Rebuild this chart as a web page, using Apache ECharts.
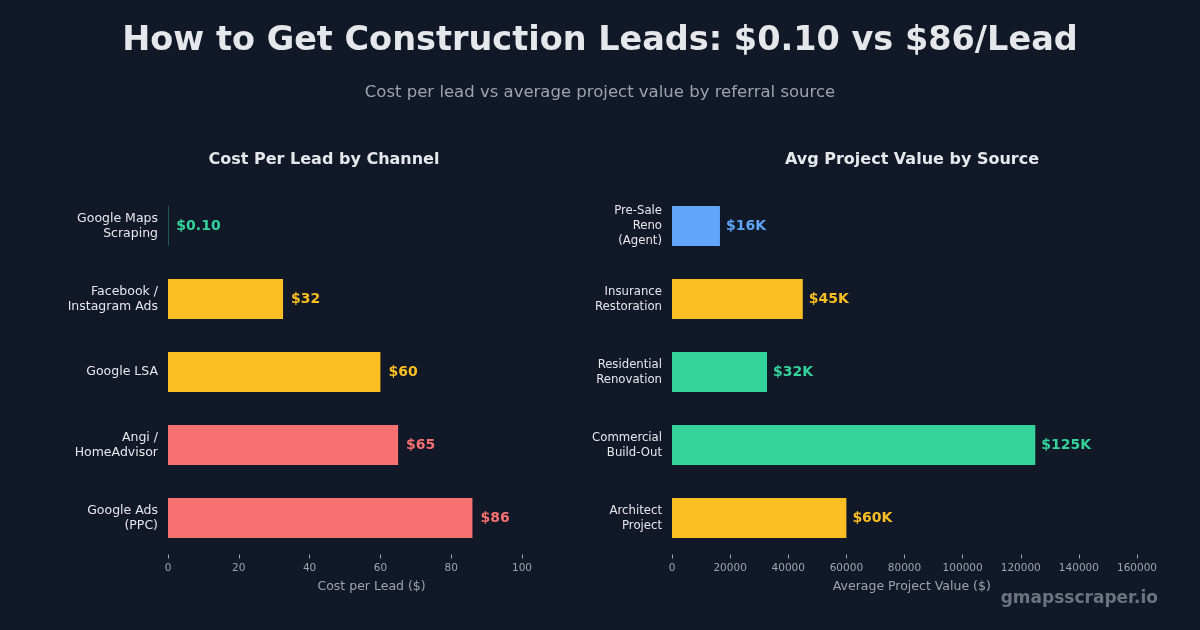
<!DOCTYPE html>
<html><head><meta charset="utf-8">
<script src="https://cdn.jsdelivr.net/npm/echarts@6/dist/echarts.min.js"></script>
<style>html,body{margin:0;padding:0;background:#111827;}#c{width:1200px;height:630px;}</style>
</head><body><div id="c"></div>
<script>
const channels = ["Google Maps\nScraping", "Facebook /\nInstagram Ads", "Google LSA", "Angi /\nHomeAdvisor", "Google Ads\n(PPC)"];
const costPerLead = [0.10, 32.5, 60, 65, 86];
const costLabels = ["$0.10", "$32", "$60", "$65", "$86"];
const costColors = ["#34d399", "#fbbf24", "#fbbf24", "#f87171", "#f87171"];

const sources = ["Pre-Sale\nReno\n(Agent)", "Insurance\nRestoration", "Residential\nRenovation", "Commercial\nBuild-Out", "Architect\nProject"];
const projectValue = [16500, 45000, 32700, 125000, 60000];
const valueLabels = ["$16K", "$45K", "$32K", "$125K", "$60K"];
const valueColors = ["#60a5fa", "#fbbf24", "#34d399", "#34d399", "#fbbf24"];

const leftTicks = [0, 20, 40, 60, 80, 100];
const leftMax = 115;
const rightTicks = [0, 20000, 40000, 60000, 80000, 100000, 120000, 140000, 160000];
const rightMax = 165000;

const FONT = "'DejaVu Sans', sans-serif";
const COND = "'DejaVu Sans Condensed', 'DejaVu Sans', sans-serif";
const chart = echarts.init(document.getElementById('c'));

function xAxis(gi, ticks, max, name) {
  return {
    type: 'value', gridIndex: gi, min: 0, max: max,
    axisLine: {show: false},
    axisTick: {show: true, length: 4, lineStyle: {color: '#9ca3af'}, customValues: ticks},
    splitLine: {show: false},
    axisLabel: {color: '#9ca3af', fontSize: 10.5, fontFamily: FONT, margin: 8, customValues: ticks,
      formatter: v => String(v)},
    name: name, nameLocation: 'middle', nameGap: 26,
    nameTextStyle: {color: '#9ca3af', fontSize: 12.5, fontFamily: FONT}
  };
}
function yAxis(gi, cats, font, size, lh) {
  return {
    type: 'category', gridIndex: gi, data: cats, inverse: true,
    axisLine: {show: false}, axisTick: {show: false},
    axisLabel: {color: '#e5e7eb', fontSize: size, fontFamily: font, margin: 10, lineHeight: lh, align: 'right'}
  };
}

chart.setOption({
  backgroundColor: '#111827',
  animation: false,
  title: [
    {text: 'How to Get Construction Leads: $0.10 vs $86/Lead', left: 'center', top: 19,
     textStyle: {color: '#e5e7eb', fontSize: 33.5, fontWeight: 'bold', fontFamily: FONT}},
    {text: 'Cost per lead vs average project value by referral source', left: 'center', top: 79,
     textStyle: {color: '#9ca3af', fontSize: 16.5, fontWeight: 'normal', fontFamily: FONT}}
  ],
  graphic: [
    {type: 'text', x: 324, y: 160,
     style: {text: 'Cost Per Lead by Channel', fill: '#e5e7eb', align: 'center', verticalAlign: 'middle',
       font: "bold 16px 'DejaVu Sans', sans-serif"}},
    {type: 'text', x: 912, y: 160,
     style: {text: 'Avg Project Value by Source', fill: '#e5e7eb', align: 'center', verticalAlign: 'middle',
       font: "bold 16px 'DejaVu Sans', sans-serif"}},
    {type: 'text', x: 1158, y: 599,
     style: {text: 'gmapsscraper.io', fill: '#6b7280', align: 'right', verticalAlign: 'middle',
       font: "bold 17px 'DejaVu Sans', sans-serif"}}
  ],
  grid: [
    {left: 168, width: 354 * leftMax / 100, top: 189.5, height: 365, containLabel: false},
    {left: 672, width: 465 * rightMax / 160000, top: 189.5, height: 365, containLabel: false}
  ],
  xAxis: [xAxis(0, leftTicks, leftMax, 'Cost per Lead ($)'), xAxis(1, rightTicks, rightMax, 'Average Project Value ($)')],
  yAxis: [yAxis(0, channels, FONT, 12.5, 15), yAxis(1, sources, COND, 13, 15)],
  series: [
    {type: 'bar', xAxisIndex: 0, yAxisIndex: 0, barWidth: 40,
     data: costPerLead.map((v,i)=>({value: v, itemStyle: {color: costColors[i]},
       label: {color: costColors[i]}})),
     label: {show: true, position: 'right', distance: 8, fontSize: 14, fontWeight: 'bold', fontFamily: FONT,
       formatter: p => costLabels[p.dataIndex]}},
    {type: 'bar', xAxisIndex: 1, yAxisIndex: 1, barWidth: 40,
     data: projectValue.map((v,i)=>({value: v, itemStyle: {color: valueColors[i]},
       label: {color: valueColors[i]}})),
     label: {show: true, position: 'right', distance: 6, fontSize: 14, fontWeight: 'bold', fontFamily: FONT,
       formatter: p => valueLabels[p.dataIndex]}}
  ]
});
</script></body></html>
